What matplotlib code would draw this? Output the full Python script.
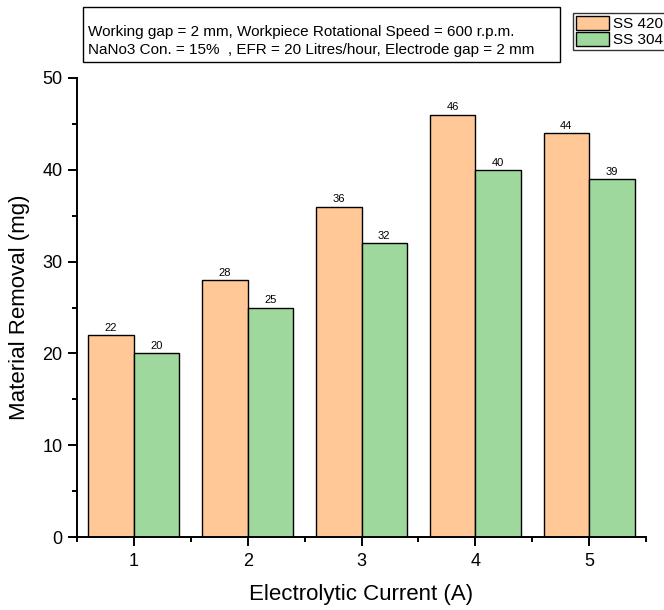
import matplotlib
matplotlib.use("Agg")
import matplotlib.pyplot as plt
import numpy as np
from matplotlib.patches import Patch, Rectangle
from matplotlib.ticker import MultipleLocator

plt.rcParams['font.family'] = ['Liberation Sans', 'DejaVu Sans']

currents = [1, 2, 3, 4, 5]
ss420 = [22, 28, 36, 46, 44]
ss304 = [20, 25, 32, 40, 39]
series_names = ["SS 420", "SS 304"]
colors = ["#FFC896", "#9ED89C"]
info_lines = ["Working gap = 2 mm, Workpiece Rotational Speed = 600 r.p.m.",
              "NaNo3 Con. = 15%  , EFR = 20 Litres/hour, Electrode gap = 2 mm"]

W, H = 664, 610
fig = plt.figure(figsize=(W/100, H/100), dpi=100)
ax = fig.add_axes([77/W, (H-537)/H, 569/W, 459/H])

x = np.array(currents, dtype=float)
w = 0.4
b1 = ax.bar(x - w/2, ss420, width=w, color=colors[0], edgecolor='black', linewidth=1.0)
b2 = ax.bar(x + w/2, ss304, width=w, color=colors[1], edgecolor='black', linewidth=1.0)
for bars, vals in ((b1, ss420), (b2, ss304)):
    for r, v in zip(bars, vals):
        ax.text(r.get_x() + r.get_width()/2, v + 0.25, str(v), ha='center', va='bottom', fontsize=8)

ax.set_xlim(0.5, 5.5)
ax.set_ylim(0, 50)
ax.set_xticks(currents)
ax.xaxis.set_minor_locator(MultipleLocator(0.5))
ax.yaxis.set_major_locator(MultipleLocator(10))
ax.yaxis.set_minor_locator(MultipleLocator(5))
ax.spines['top'].set_visible(False)
ax.spines['right'].set_visible(False)
ax.spines['left'].set_linewidth(1.4)
ax.spines['bottom'].set_linewidth(1.4)
ax.tick_params(axis='both', which='major', direction='out', length=6.5, width=1.4, labelsize=13)
ax.tick_params(axis='x', which='major', pad=5)
ax.tick_params(axis='y', which='major', pad=4)
ax.tick_params(axis='both', which='minor', direction='out', length=3.5, width=1.4)
ax.set_xlabel("Electrolytic Current (A)", fontsize=16, labelpad=10)
ax.set_ylabel("Material Removal (mg)", fontsize=16, labelpad=9)

for i, line in enumerate(info_lines):
    fig.text(88/W, 1 - (32 + 18*i)/H, line, ha='left', va='center', fontsize=11)
fig.add_artist(Rectangle((83/W, 1 - 62/H), (560-83)/W, 55/H, transform=fig.transFigure,
                         fill=False, edgecolor='black', linewidth=1.0))

handles = [Patch(facecolor=colors[0], edgecolor='black'), Patch(facecolor=colors[1], edgecolor='black')]
leg = fig.legend(handles, series_names, loc='upper left', bbox_to_anchor=(573/W, 1 - 13/H),
                 fontsize=11, frameon=True, fancybox=False, edgecolor='black', borderpad=0.2,
                 handlelength=2.15, handleheight=1.0, handletextpad=0.3, labelspacing=0.08,
                 borderaxespad=0)
leg.get_frame().set_linewidth(1.0)

fig.savefig("out.png", dpi=100)
